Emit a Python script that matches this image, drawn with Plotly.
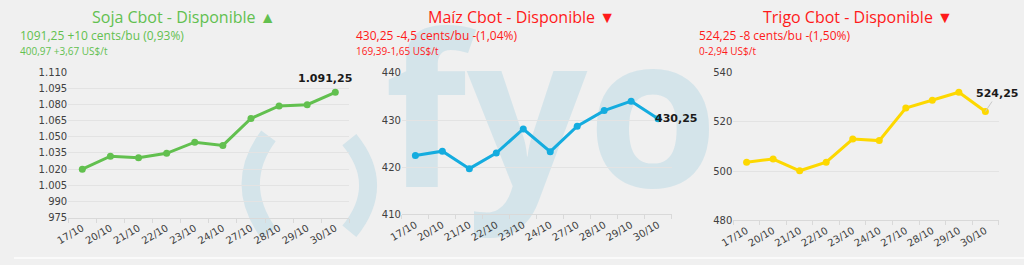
import plotly.graph_objects as go

dates = ["17/10", "20/10", "21/10", "22/10", "23/10", "24/10", "27/10", "28/10", "29/10", "30/10"]
soja = [1020, 1032, 1030.5, 1034.7, 1045, 1042, 1067, 1078.6, 1079.8, 1091.25]
maiz = [422.5, 423.4, 419.7, 423, 428.1, 423.3, 428.7, 432, 434, 430.25]
trigo = [503.6, 504.9, 500.1, 503.6, 513, 512.4, 525.7, 528.8, 532.1, 524.25]

soja_ticks = [975, 990, 1005, 1020, 1035, 1050, 1065, 1080, 1095, 1110]
maiz_ticks = [410, 420, 430, 440]
trigo_ticks = [480, 500, 520, 540]

titles = ["Soja Cbot - Disponible ▲", "Maíz Cbot - Disponible ▼", "Trigo Cbot - Disponible ▼"]
line1 = ["1091,25 +10 cents/bu (0,93%)", "430,25 -4,5 cents/bu -(1,04%)", "524,25 -8 cents/bu -(1,50%)"]
line2 = ["400,97 +3,67 US$/t", "169,39-1,65 US$/t", "0-2,94 US$/t"]

BG = "#f0f0f0"
WM = "#d4e4ea"
GREEN = "#62c04f"
BLUE = "#14acdf"
YELLOW = "#fdd800"
RED = "#ff1a1a"
W, H = 1024, 265


def fmt(v):
    s = f"{v:,.2f}"
    return s.replace(",", "X").replace(".", ",").replace("X", ".")


fig = go.Figure()

# watermark subplot (drawn first, underneath the charts)
fig.add_trace(go.Scatter(x=[545], y=[134], mode="text", text=["<b>fyo</b>"],
                         textposition="middle center",
                         textfont=dict(family="Open Sans", size=212, color=WM),
                         hoverinfo="skip", showlegend=False, xaxis="x", yaxis="y"))

panels = [
    dict(vals=soja, ticks=soja_ticks, color=GREEN, xd=(55, 340), yd=(69.3, 221.7), ax="2"),
    dict(vals=maiz, ticks=maiz_ticks, color=BLUE, xd=(393.3, 666.7), yd=(70, 218.3), ax="3"),
    dict(vals=trigo, ticks=trigo_ticks, color=YELLOW, xd=(729.3, 998.3), yd=(70, 224.3), ax="4"),
]

layout = dict(
    width=W, height=H, margin=dict(l=0, r=0, t=0, b=0),
    paper_bgcolor=BG, plot_bgcolor="rgba(0,0,0,0)",
    separators=",.", showlegend=False,
    xaxis=dict(domain=[0, 1], range=[0, W], visible=False, fixedrange=True),
    yaxis=dict(domain=[0, 1], range=[H, 0], visible=False, fixedrange=True),
)

annotations = []
for p in panels:
    a = p["ax"]
    fig.add_trace(go.Scatter(x=dates, y=p["vals"], mode="lines+markers",
                             line=dict(color=p["color"], width=3),
                             marker=dict(color=p["color"], size=7),
                             xaxis="x" + a, yaxis="y" + a, hoverinfo="skip"))
    layout["xaxis" + a] = dict(
        domain=[p["xd"][0] / W, p["xd"][1] / W], type="category",
        range=[-0.5, len(dates) - 0.5], tickangle=-30,
        tickfont=dict(family="DejaVu Sans", size=10, color="#404040"),
        showgrid=False, showline=True, linecolor="#d9d9d9", linewidth=1,
        ticks="outside", tickson="boundaries", ticklen=4, tickcolor="#d9d9d9",
        anchor="y" + a, fixedrange=True)
    layout["yaxis" + a] = dict(
        domain=[1 - p["yd"][1] / H, 1 - p["yd"][0] / H],
        range=[p["ticks"][0], p["ticks"][-1]], tickvals=p["ticks"],
        tickformat=",d", showgrid=True, gridcolor="#e3e3e3", gridwidth=1,
        zeroline=False, showline=False, ticks="", ticklen=0,
        tickfont=dict(family="DejaVu Sans", size=10, color="#404040"),
        anchor="x" + a, fixedrange=True)

# value labels on last points
annotations.append(dict(x=dates[-1], y=soja[-1], xref="x2", yref="y2", text="<b>" + fmt(soja[-1]) + "</b>",
                        showarrow=False, xshift=-10, yshift=14,
                        font=dict(family="DejaVu Sans", size=11, color="#1a1a1a")))
annotations.append(dict(x=dates[-1], y=maiz[-1], xref="x3", yref="y3", text="<b>" + fmt(maiz[-1]) + "</b>",
                        showarrow=False, xanchor="left", xshift=-5, yshift=0,
                        font=dict(family="DejaVu Sans", size=11, color="#1a1a1a")))
annotations.append(dict(x=dates[-1], y=trigo[-1], xref="x4", yref="y4", text="<b>" + fmt(trigo[-1]) + "</b>",
                        showarrow=True, arrowhead=0, arrowwidth=1, arrowcolor="#c8c8c8",
                        ax=12, ay=-18, standoff=0,
                        font=dict(family="DejaVu Sans", size=11, color="#1a1a1a")))

# titles
title_cx = [172, 515, 856]
sub_x = [4, 345, 692]
tcolors = [GREEN, RED, RED]
for i in range(3):
    annotations.append(dict(x=title_cx[i] / W, y=1 - 12 / H, xref="paper", yref="paper",
                            text=titles[i], showarrow=False, xanchor="center", yanchor="middle",
                            font=dict(family="Open Sans", size=16, color=tcolors[i])))
    annotations.append(dict(x=sub_x[i] / W, y=1 - 31 / H, xref="paper", yref="paper",
                            text=line1[i], showarrow=False, xanchor="left", yanchor="middle",
                            font=dict(family="Open Sans", size=12, color=tcolors[i])))
    annotations.append(dict(x=sub_x[i] / W, y=1 - 47 / H, xref="paper", yref="paper",
                            text=line2[i], showarrow=False, xanchor="left", yanchor="middle",
                            font=dict(family="Open Sans", size=10, color=tcolors[i])))

shapes = [
    dict(type="path", path="M 258 136 Q 222 186 258 238", xref="x", yref="y",
         line=dict(color=WM, width=18), layer="below"),
    dict(type="path", path="M 340 140 Q 378 188 340 236", xref="x", yref="y",
         line=dict(color=WM, width=18), layer="below"),
    dict(type="rect", x0=0, x1=1, y0=0, y1=2 / H, xref="paper", yref="paper",
         fillcolor="#fafafa", line=dict(width=0), layer="below"),
]

layout["annotations"] = annotations
layout["shapes"] = shapes
fig.update_layout(**layout)
fig.write_html("out.html")
